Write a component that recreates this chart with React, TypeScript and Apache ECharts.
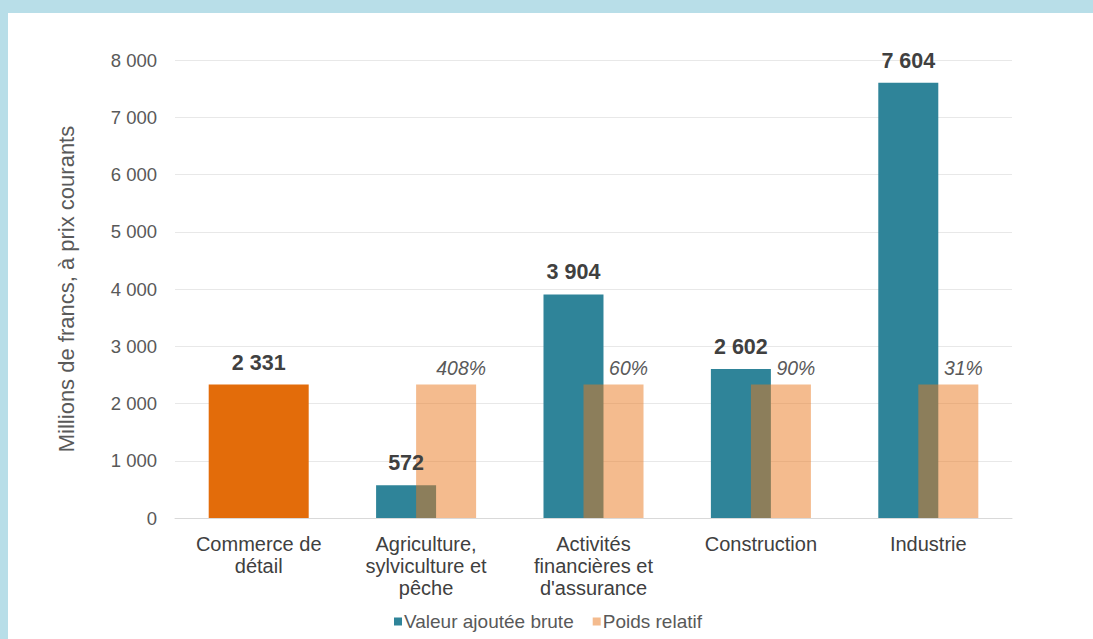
import React, { useEffect, useRef } from "react";
import * as echarts from "echarts";

const categories = [
  "Commerce de\ndétail",
  "Agriculture,\nsylviculture et\npêche",
  "Activités\nfinancières et\nd'assurance",
  "Construction",
  "Industrie",
];
const commerceValues = [2331, "-", "-", "-", "-"];
const valeurAjoutee = ["-", 572, 3904, 2602, 7604];
const poidsBar = ["-", 2331, 2331, 2331, 2331];
const poidsRelatif = [null, 408, 60, 90, 31];
const yTicks = [0, 1000, 2000, 3000, 4000, 5000, 6000, 7000, 8000];

const FONT = "'Liberation Sans', Arial, sans-serif";
const fmt = (v: number) => String(v).replace(/\B(?=(\d{3})+(?!\d))/g, " ");

export default function App() {
  const ref = useRef<HTMLDivElement>(null);
  useEffect(() => {
    if (!ref.current) return;
    const chart = echarts.init(ref.current, undefined, { renderer: "svg" });
    chart.setOption({
      animation: false,
      backgroundColor: "#ffffff",
      textStyle: { fontFamily: FONT },
      graphic: [
        { type: "rect", left: 0, top: 0, shape: { width: 1093, height: 13 }, style: { fill: "#b8dee8" }, silent: true },
        { type: "rect", left: 0, top: 0, shape: { width: 8, height: 639 }, style: { fill: "#b8dee8" }, silent: true },
      ],
      legend: {
        data: ["Valeur ajoutée brute", "Poids relatif"],
        left: 389,
        top: 607,
        itemWidth: 8,
        itemHeight: 8,
        itemGap: 19,
        icon: "rect",
        textStyle: { fontFamily: FONT, fontSize: 19, color: "#595959", padding: [0, 0, 0, -3] },
      },
      grid: { left: 175, right: 81, top: 60, bottom: 121, containLabel: false },
      xAxis: [
        {
          type: "category",
          data: categories,
          axisLine: { lineStyle: { color: "#d9d9d9" } },
          axisTick: { show: false },
          axisLabel: {
            interval: 0,
            margin: 15,
            fontFamily: FONT,
            fontSize: 20,
            color: "#404040",
            lineHeight: 22,
          },
        },
        { type: "category", data: categories, show: false },
      ],
      yAxis: {
        type: "value",
        min: yTicks[0],
        max: yTicks[yTicks.length - 1],
        interval: 1000,
        name: "Millions de francs, à prix courants",
        nameLocation: "middle",
        nameGap: 98,
        nameTextStyle: { fontFamily: FONT, fontSize: 22, color: "#595959" },
        axisLine: { show: false },
        axisTick: { show: false },
        splitLine: { lineStyle: { color: "#e8e8e8" } },
        axisLabel: {
          margin: 18,
          fontFamily: FONT,
          fontSize: 18.5,
          color: "#595959",
          formatter: (v: number) => fmt(v),
        },
      },
      series: [
        {
          name: "Commerce de détail",
          type: "bar",
          xAxisIndex: 1,
          data: commerceValues,
          barWidth: 100,
          itemStyle: { color: "#e36c0a" },
          label: {
            show: true,
            position: "top",
            distance: 11,
            fontFamily: FONT,
            fontSize: 21.5,
            fontWeight: "bold",
            color: "#404040",
            formatter: (p: any) => fmt(p.value),
          },
        },
        {
          name: "Valeur ajoutée brute",
          type: "bar",
          xAxisIndex: 0,
          data: valeurAjoutee,
          barWidth: 60,
          barGap: "-33.3%",
          itemStyle: { color: "#2f8499" },
          label: {
            show: true,
            position: "top",
            distance: 11,
            fontFamily: FONT,
            fontSize: 21.5,
            fontWeight: "bold",
            color: "#404040",
            formatter: (p: any) => fmt(p.value),
          },
        },
        {
          name: "Poids relatif",
          type: "bar",
          xAxisIndex: 0,
          data: poidsBar,
          barWidth: 60,
          barGap: "-33.3%",
          itemStyle: { color: "rgba(233,119,29,0.5)" },
          label: {
            show: true,
            position: "top",
            distance: 7,
            offset: [15, 0],
            fontFamily: FONT,
            fontSize: 19.4,
            fontStyle: "italic",
            color: "#595959",
            formatter: (p: any) => (poidsRelatif[p.dataIndex] == null ? "" : poidsRelatif[p.dataIndex] + "%"),
          },
        },
      ],
    });
    return () => chart.dispose();
  }, []);
  return (
    <div
      ref={ref}
      style={{ position: "absolute", left: 0, top: 0, width: 1093, height: 639 }}
    />
  );
}
